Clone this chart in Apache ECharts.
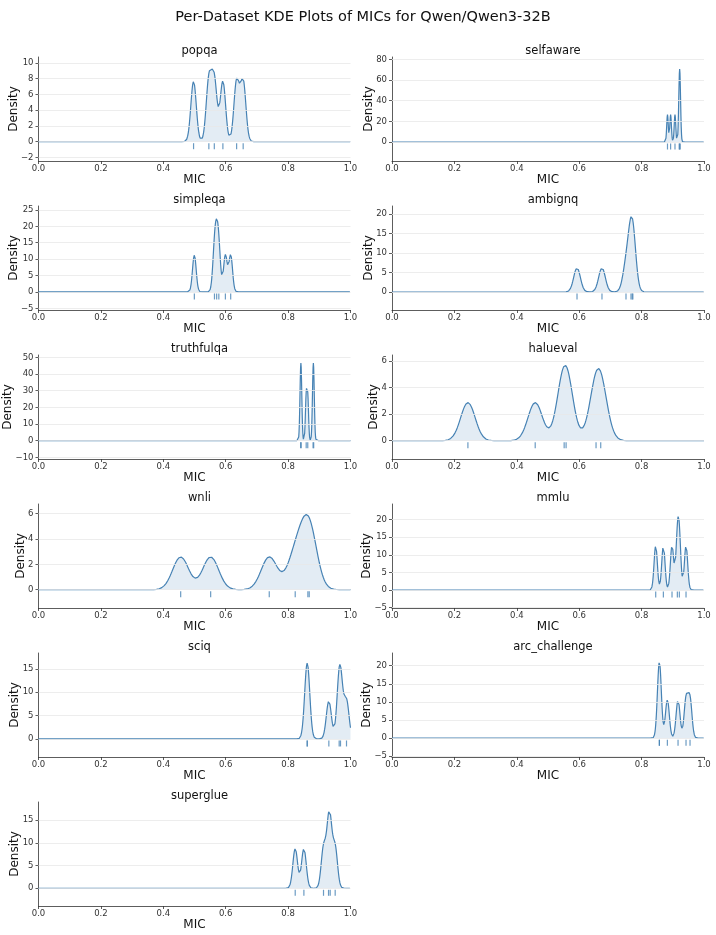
<!DOCTYPE html>
<html style="height: 100%">
<head>
<meta charset="utf-8">
<title>Per-Dataset KDE Plots of MICs</title>
<script src="https://cdn.jsdelivr.net/npm/echarts@6/dist/echarts.min.js"></script>
</head>
<body style="height: 100%; margin: 0; background: #fff">
<div id="container" style="width: 716px; height: 935px"></div>
<script type="text/javascript">
// MIC samples per dataset
var datasetNames = ['popqa', 'selfaware', 'simpleqa', 'ambignq', 'truthfulqa', 'halueval',
                    'wnli', 'mmlu', 'sciq', 'arc_challenge', 'superglue'];
var micPopqa = [0.497, 0.546, 0.5635, 0.591, 0.635, 0.656];
var micSelfaware = [0.883, 0.893, 0.907, 0.9205, 0.922, 0.9235];
var micSimpleqa = [0.4995, 0.564, 0.571, 0.578, 0.599, 0.616];
var micAmbignq = [0.593, 0.673, 0.750, 0.766, 0.770, 0.772];
var micTruthfulqa = [0.840, 0.842, 0.858, 0.863, 0.880, 0.882];
var micHalueval = [0.2433, 0.459, 0.5518, 0.558, 0.654, 0.669];
var micWnli = [0.4557, 0.5518, 0.7396, 0.8228, 0.8634, 0.8677];
var micMmlu = [0.8452, 0.8698, 0.8975, 0.9146, 0.921, 0.9424];
var micSciq = [0.8613, 0.8613, 0.9306, 0.9637, 0.968, 0.9872];
var micArc = [0.857, 0.857, 0.8826, 0.9168, 0.9424, 0.9552];
var micSuperglue = [0.8228, 0.8506, 0.9135, 0.9296, 0.9349, 0.9509];
var samples = [micPopqa, micSelfaware, micSimpleqa, micAmbignq, micTruthfulqa, micHalueval,
               micWnli, micMmlu, micSciq, micArc, micSuperglue];

// y axis limits and tick labels per panel
var yMin = [-2.45, -18.4, -5.5, -4.6, -11, -1.38, -1.45, -5.1, -3.86, -5.2, -3.9];
var yMax = [10.75, 82.3, 26.2, 22.0, 51.4, 6.45, 6.77, 24.4, 18.4, 23.5, 19];
var yTicks = [
    [-2, 0, 2, 4, 6, 8, 10],
    [0, 20, 40, 60, 80],
    [-5, 0, 5, 10, 15, 20, 25],
    [0, 5, 10, 15, 20],
    [-10, 0, 10, 20, 30, 40, 50],
    [0, 2, 4, 6],
    [0, 2, 4, 6],
    [-5, 0, 5, 10, 15, 20],
    [0, 5, 10, 15],
    [-5, 0, 5, 10, 15, 20],
    [0, 5, 10, 15]
];

var BW_ADJUST = 0.2;
var LINE = '#4682b4';
var TICK_FONT = 8.5;

// gaussian kde (silverman bandwidth * adjust), evaluated on [0, 1]
function kde(xs) {
    var n = xs.length;
    var mean = xs.reduce(function (a, b) { return a + b; }, 0) / n;
    var v = xs.reduce(function (a, b) { return a + (b - mean) * (b - mean); }, 0) / (n - 1);
    var h = Math.sqrt(v) * Math.pow(n * 3 / 4, -0.2) * BW_ADJUST;
    var out = [];
    for (var i = 0; i <= 1000; i++) {
        var x = i / 1000, s = 0;
        for (var k = 0; k < n; k++) {
            var z = (x - xs[k]) / h;
            s += Math.exp(-0.5 * z * z);
        }
        out.push([x, s / (n * h * Math.sqrt(2 * Math.PI))]);
    }
    return out;
}

function fmtY(v) {
    return v < 0 ? '\u2212' + Math.abs(v) : String(v);
}

// ylabel sits left of the widest tick label, like matplotlib does
var ctx = document.createElement('canvas').getContext('2d');
ctx.font = TICK_FONT + 'px "DejaVu Sans"';
function labelWidth(ticks) {
    return Math.max.apply(null, ticks.map(function (t) { return ctx.measureText(fmtY(t)).width; }));
}

var colLeft = [38.5, 392];
var rowTop = [57, 206, 355, 504, 653, 802];
var W = 312, H = 104;

var grids = [], xAxes = [], yAxes = [], series = [];
var titles = [{
    text: 'Per-Dataset KDE Plots of MICs for Qwen/Qwen3-32B',
    left: 358, top: 5, textAlign: 'center',
    textStyle: { fontFamily: 'DejaVu Sans', fontSize: 14.5, fontWeight: 'normal', color: '#111' }
}];

datasetNames.forEach(function (name, i) {
    var left = colLeft[i % 2], top = rowTop[Math.floor(i / 2)];
    grids.push({ left: left, top: top, width: W, height: H });
    titles.push({
        text: name, left: left + W / 2, top: top - 17, textAlign: 'center',
        textStyle: { fontFamily: 'DejaVu Sans', fontSize: 11.5, fontWeight: 'normal', color: '#111' }
    });
    xAxes.push({
        gridIndex: i, type: 'value', min: 0, max: 1, interval: 0.2,
        name: 'MIC', nameLocation: 'middle', nameGap: 12.5, nameMoveOverlap: false,
        nameTextStyle: { fontFamily: 'DejaVu Sans', fontSize: 12, color: '#111', verticalAlign: 'top' },
        axisLine: { onZero: false, lineStyle: { color: '#333', width: 0.8 } },
        axisTick: { show: true, length: 3, lineStyle: { color: '#333', width: 0.8 } },
        axisLabel: {
            margin: 3.5, fontFamily: 'DejaVu Sans', fontSize: TICK_FONT, color: '#333',
            formatter: function (v) { return v.toFixed(1); }
        },
        splitLine: { show: false }
    });
    yAxes.push({
        gridIndex: i, type: 'value', min: yMin[i], max: yMax[i],
        name: 'Density', nameLocation: 'middle', nameRotate: 90, nameMoveOverlap: false,
        nameGap: labelWidth(yTicks[i]) + 6.5,
        nameTextStyle: { fontFamily: 'DejaVu Sans', fontSize: 12, color: '#111' },
        axisLine: { show: true, onZero: false, lineStyle: { color: '#333', width: 0.8 } },
        axisTick: { show: true, length: 3, customValues: yTicks[i], lineStyle: { color: '#333', width: 0.8 } },
        axisLabel: {
            margin: 5, fontFamily: 'DejaVu Sans', fontSize: TICK_FONT, color: '#333',
            customValues: yTicks[i], formatter: fmtY
        },
        splitLine: { show: false }
    });
    // light horizontal grid lines at the y ticks
    series.push({
        type: 'line', xAxisIndex: i, yAxisIndex: i, data: [], z: 1, silent: true,
        markLine: {
            silent: true, symbol: 'none', label: { show: false },
            lineStyle: { color: '#e8e8e8', width: 0.8, type: 'solid' },
            animation: false,
            data: yTicks[i].map(function (t) { return { yAxis: t }; })
        }
    });
    series.push({
        type: 'line', xAxisIndex: i, yAxisIndex: i, data: kde(samples[i]), z: 2,
        showSymbol: false, smooth: false, animation: false,
        lineStyle: { color: LINE, width: 1.2 },
        areaStyle: { color: 'rgba(70,130,180,0.22)', origin: 0 }
    });
    // rug
    series.push({
        type: 'scatter', xAxisIndex: i, yAxisIndex: i, z: 3, animation: false,
        data: samples[i].map(function (x) { return [x, 0]; }),
        symbol: 'rect', symbolSize: [1.2, 6], symbolOffset: [0, 4.5],
        itemStyle: { color: LINE }
    });
});

var chart = echarts.init(document.getElementById('container'), null, { renderer: 'canvas' });
chart.setOption({
    animation: false,
    backgroundColor: '#fff',
    title: titles,
    grid: grids,
    xAxis: xAxes,
    yAxis: yAxes,
    series: series
});
</script>
</body>
</html>
